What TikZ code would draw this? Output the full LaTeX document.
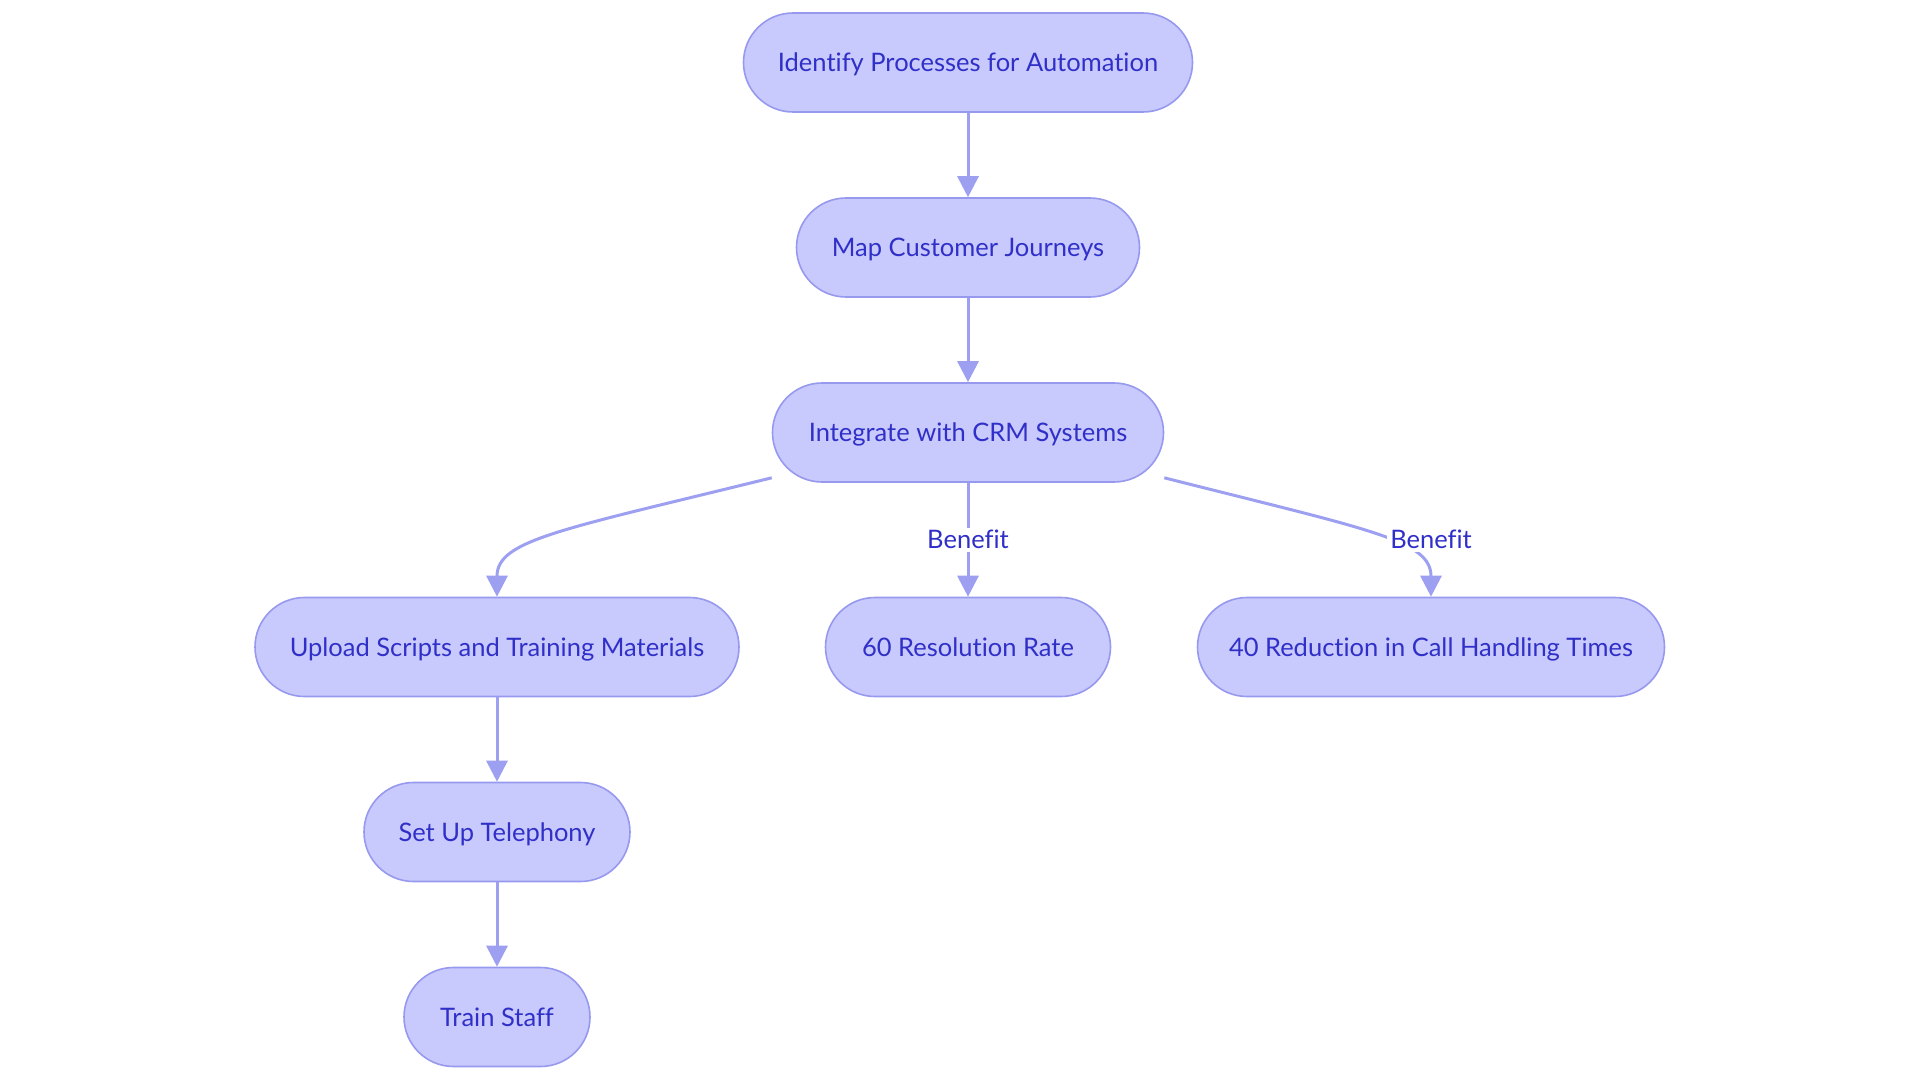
\documentclass[tikz,border=0pt]{standalone}
\usepackage{fontspec}
\setmainfont{Lato}[Ligatures={NoCommon}]
\usepackage{xcolor}
\usepackage{tikz}
\usetikzlibrary{arrows.meta}

\definecolor{boxfill}{RGB}{200,201,252}
\definecolor{boxline}{RGB}{151,153,238}
\definecolor{flowline}{RGB}{157,159,240}
\definecolor{boxtext}{RGB}{48,48,200}

\tikzset{
  stage/.style={draw=boxline, fill=boxfill, line width=1.6pt, rounded corners=49.5pt,
    minimum height=99pt, inner xsep=30pt, text=boxtext,
    font=\fontsize{25.5}{30}\selectfont, text height=18pt, text depth=0pt},
  flow/.style={draw=flowline, line width=3pt, -{Triangle[length=21pt,width=21pt]}},
  benefit/.style={fill=white, text=boxtext, inner sep=3pt,
    font=\fontsize{25.5}{30}\selectfont, text height=18pt, text depth=0pt}
}

\begin{document}
\begin{tikzpicture}[x=1pt, y=-1pt]
    \useasboundingbox (0,0) rectangle (1920,1083);

    \node[stage, minimum width=449pt] (idn) at (968,62.5) {Identify Processes for Automation};
    \node[stage, minimum width=343pt] (map) at (968,247.5) {Map Customer Journeys};
    \node[stage, minimum width=391pt] (crm) at (968,432.5) {Integrate with CRM Systems};

    \node[stage, minimum width=484pt] (upl) at (497,647) {Upload Scripts and Training Materials};
    \node[stage, minimum width=285pt] (res60) at (968,647) {60 Resolution Rate};
    \node[stage, minimum width=467pt] (red40) at (1431,647) {40 Reduction in Call Handling Times};

    \node[stage, minimum width=266pt] (tel) at (497,832) {Set Up Telephony};
    \node[stage, minimum width=186pt] (trn) at (497,1017) {Train Staff};

    \draw[flow] (idn) -- (map);
    \draw[flow] (map) -- (crm);

    \draw[flow] ([yshift=5pt]crm.south west) .. controls (560,530) and (497,540) .. (upl.north);
    \draw[flow] (crm) -- node[benefit, midway] (b1) {Benefit} (res60);
    \draw[flow] ([yshift=5pt]crm.south east) .. controls (1370,530) and (1431,540) .. (red40.north);
    \node[benefit] (b2) at (red40 |- b1) {Benefit};

    \draw[flow] (upl) -- (tel);
    \draw[flow] (tel) -- (trn);
\end{tikzpicture}
\end{document}
